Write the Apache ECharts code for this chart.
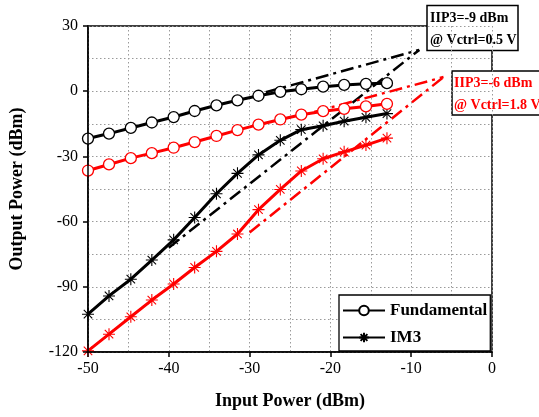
<!DOCTYPE html>
<html>
<head>
<meta charset="utf-8">
<script src="https://cdn.jsdelivr.net/npm/echarts@6/dist/echarts.min.js"></script>
<style>html,body{margin:0;padding:0;background:#fff}#c{width:539px;height:417px}</style>
</head>
<body>
<div id="c"></div>
<script>
// Input power (dBm)
const inputPower = [-50, -47.4, -44.7, -42.1, -39.4, -36.8, -34.1, -31.5, -28.9, -26.2, -23.6, -20.9, -18.3, -15.6, -13];
// Vctrl = 0.5 V (black)
const fundA = [-21.8, -19.5, -16.9, -14.4, -11.9, -9.1, -6.5, -4.2, -2.1, -0.3, 0.9, 2.1, 2.9, 3.4, 3.7];
const im3A  = [-102.6, -94.2, -86.5, -77.7, -68.4, -58.1, -47.2, -37.8, -29.3, -22.6, -17.7, -15.9, -13.8, -12.0, -10.3];
// Vctrl = 1.8 V (red)
const fundB = [-36.5, -33.7, -30.8, -28.5, -26.0, -23.4, -20.6, -17.9, -15.4, -13.0, -10.8, -9.2, -8.1, -7.0, -5.8];
const im3B  = [-119.5, -111.8, -103.8, -96.1, -88.7, -81.1, -73.7, -65.7, -54.5, -45.2, -36.7, -31.1, -27.9, -24.8, -21.6];
// Extrapolation lines [x, y] end points
const extFundA = [[-28, -0.5], [-9, 19]];
const extIm3A  = [[-40, -72], [-9, 19]];
const extFundB = [[-22, -9.5], [-6, 6.5]];
const extIm3B  = [[-30, -65], [-6, 6.5]];
// Axis ticks (labelled) and grid spacing
const xTicks = {min: -50, max: 0, interval: 10, grid: 5};
const yTicks = {min: -120, max: 30, interval: 30, grid: 15};
// Annotation texts
const noteA = ['IIP3=-9 dBm', '@ Vctrl=0.5 V'];
const noteB = ['IIP3=-6 dBm', '@ Vctrl=1.8 V'];

const pairs = ys => inputPower.map((x, i) => [x, ys[i]]);
const FONT = 'Liberation Serif';
const star = 'path://M0,-10L0,10M-10,0L10,0M-7.07,-7.07L7.07,7.07M-7.07,7.07L7.07,-7.07';
const dashDot = [13, 5, 3, 5];
const gridLine = {show: true, lineStyle: {color: '#9a9a9a', type: [1.5, 2.5], width: 1}};

function solid(name, ys, color, marker) {
  const isCircle = marker === 'circle';
  return {
    name, type: 'line', data: pairs(ys), z: 5,
    symbol: isCircle ? 'circle' : star,
    symbolSize: isCircle ? 11 : 12,
    showSymbol: true,
    lineStyle: {color, width: 3},
    itemStyle: isCircle ? {color: '#fff', borderColor: color, borderWidth: 1.3}
                        : {color: 'rgba(0,0,0,0)', borderColor: color, borderWidth: 1.1},
    emphasis: {disabled: true}, animation: false
  };
}
function ext(name, pts, color) {
  return {
    name, type: 'line', data: pts, z: 3, symbol: 'none',
    lineStyle: {color, width: 2.5, type: dashDot},
    emphasis: {disabled: true}, animation: false
  };
}
const hiddenAxis = t => ({
  type: 'value', min: t.min, max: t.max, interval: t.grid,
  axisLine: {show: false}, axisTick: {show: false}, axisLabel: {show: false},
  splitLine: gridLine
});

const chart = echarts.init(document.getElementById('c'), null, {renderer: 'canvas'});
chart.setOption({
  animation: false,
  backgroundColor: '#fff',
  grid: {left: 88, right: 47, top: 26, bottom: 65, show: true, borderColor: '#000', borderWidth: 1.5, backgroundColor: 'transparent'},
  xAxis: [{
    type: 'value', min: xTicks.min, max: xTicks.max, interval: xTicks.interval,
    name: 'Input Power (dBm)', nameLocation: 'middle', nameGap: 40,
    nameTextStyle: {fontFamily: FONT, fontWeight: 'bold', fontSize: 18, color: '#000'},
    axisLine: {show: true, onZero: false, lineStyle: {color: '#000', width: 1.5}},
    axisTick: {show: true, length: 5, inside: false, lineStyle: {color: '#000', width: 1.5}},
    axisLabel: {fontFamily: FONT, fontSize: 16, color: '#000', margin: 9},
    splitLine: {show: false}, z: 10
  }, hiddenAxis(xTicks)],
  yAxis: [{
    type: 'value', min: yTicks.min, max: yTicks.max, interval: yTicks.interval,
    name: 'Output Power (dBm)', nameLocation: 'middle', nameGap: 62, nameRotate: 90,
    nameTextStyle: {fontFamily: FONT, fontWeight: 'bold', fontSize: 18, color: '#000'},
    axisLine: {show: true, onZero: false, lineStyle: {color: '#000', width: 1.5}},
    axisTick: {show: true, length: 5, inside: false, lineStyle: {color: '#000', width: 1.5}},
    axisLabel: {fontFamily: FONT, fontSize: 16, color: '#000', margin: 10},
    splitLine: {show: false}, z: 10
  }, hiddenAxis(yTicks)],
  legend: {
    data: ['Fundamental', 'IM3'], orient: 'vertical', left: 339, top: 295,
    padding: [7, 3, 5, 3], itemGap: 10, itemWidth: 42, itemHeight: 12,
    backgroundColor: '#fff', borderColor: '#000', borderWidth: 1.3, borderRadius: 0,
    textStyle: {fontFamily: FONT, fontWeight: 'bold', fontSize: 17, color: '#000'},
    selectedMode: false, z: 20
  },
  series: [
    ext('extFundA', extFundA, '#000'),
    ext('extIm3A', extIm3A, '#000'),
    ext('extFundB', extFundB, '#ff0000'),
    ext('extIm3B', extIm3B, '#ff0000'),
    solid('Fundamental', fundA, '#000', 'circle'),
    solid('IM3', im3A, '#000', 'star'),
    solid('Fundamental 1.8V', fundB, '#ff0000', 'circle'),
    solid('IM3 1.8V', im3B, '#ff0000', 'star')
  ],
  graphic: [
    {type: 'group', z: 100, children: [
      {type: 'rect', shape: {x: 427, y: 5.5, width: 91, height: 45}, style: {fill: '#fff', stroke: '#000', lineWidth: 1.5}},
      {type: 'text', x: 430, y: 18, style: {text: noteA[0], fill: '#000', font: 'bold 14px "Liberation Serif"', textVerticalAlign: 'middle'}},
      {type: 'text', x: 430, y: 40, style: {text: noteA[1], fill: '#000', font: 'bold 14px "Liberation Serif"', textVerticalAlign: 'middle'}},
      {type: 'rect', shape: {x: 452, y: 71, width: 96, height: 44}, style: {fill: '#fff', stroke: '#000', lineWidth: 1.5}},
      {type: 'text', x: 454, y: 83, style: {text: noteB[0], fill: '#ff0000', font: 'bold 14px "Liberation Serif"', textVerticalAlign: 'middle'}},
      {type: 'text', x: 454, y: 105, style: {text: noteB[1], fill: '#ff0000', font: 'bold 14px "Liberation Serif"', textVerticalAlign: 'middle'}}
    ]}
  ]
});
</script>
</body>
</html>
